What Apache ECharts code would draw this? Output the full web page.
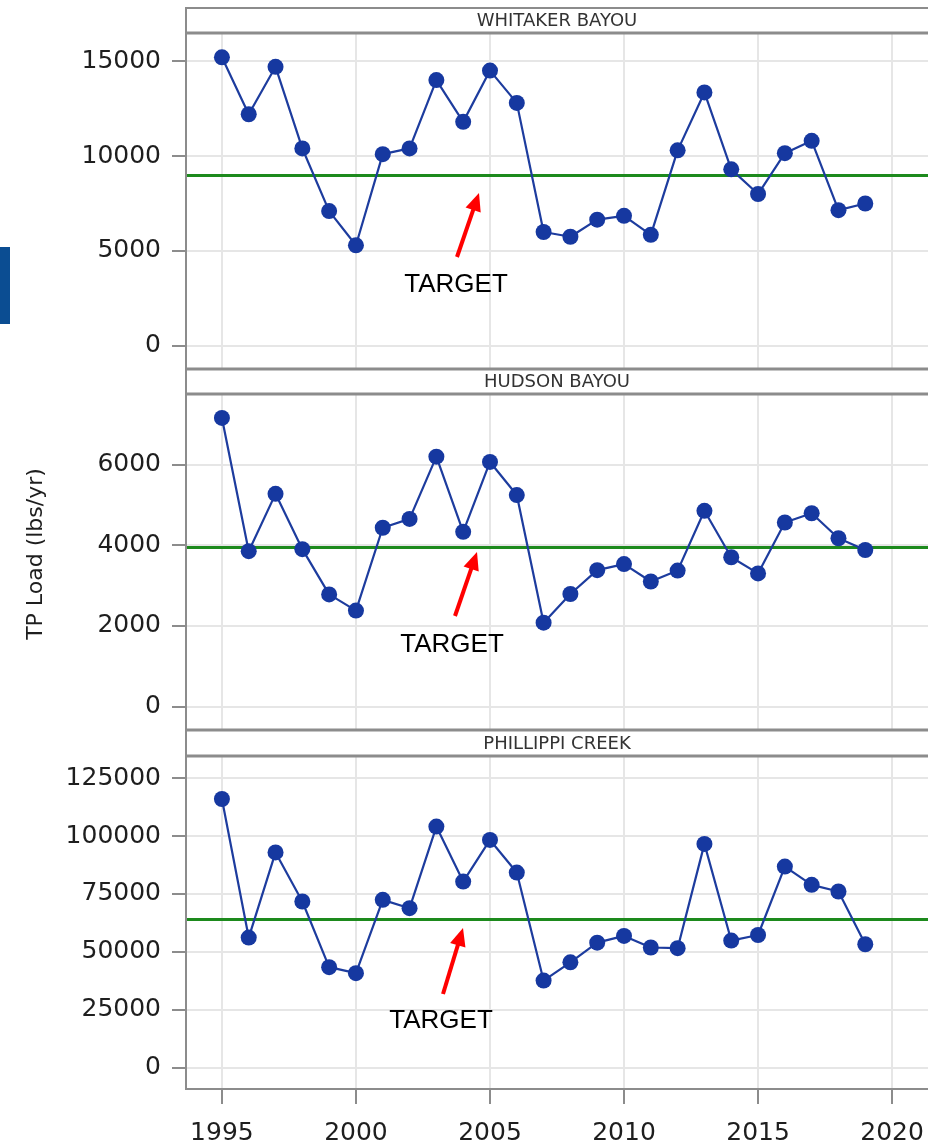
<!DOCTYPE html>
<html><head><meta charset="utf-8">
<script src="https://cdn.jsdelivr.net/npm/echarts@6/dist/echarts.min.js"></script>
<style>html,body{margin:0;padding:0;background:#fff}#c{width:928px;height:1146px}</style>
</head><body><div id="c"></div>
<script>
// ---- data ----
const years = [1995,1996,1997,1998,1999,2000,2001,2002,2003,2004,2005,2006,2007,2008,2009,2010,2011,2012,2013,2014,2015,2016,2017,2018,2019];
const whitaker = [15200,12200,14700,10400,7100,5300,10100,10400,14000,11800,14500,12800,6000,5750,6650,6850,5850,10300,13350,9300,8000,10150,10800,7150,7500];
const hudson = [7150,3850,5270,3900,2780,2380,4430,4650,6190,4330,6060,5240,2080,2790,3380,3530,3100,3370,4850,3700,3300,4560,4790,4170,3880];
const phillippi = [116000,56100,92900,71700,43300,40700,72400,68800,104100,80300,98300,84200,37500,45400,53900,56800,51800,51500,96600,54800,57200,86800,78900,76000,53200];
const targets = [9000, 3940, 64000];
const panelNames = ['WHITAKER BAYOU', 'HUDSON BAYOU', 'PHILLIPPI CREEK'];
const yTickValues = [[0,5000,10000,15000],[0,2000,4000,6000],[0,25000,50000,75000,100000,125000]];
const xTickValues = [1995,2000,2005,2010,2015,2020];
const yTitle = 'TP Load (lbs/yr)';
const annotationText = 'TARGET';

// ---- layout ----
const seriesVals = [whitaker, hudson, phillippi];
const yRanges = [[-1215,16480],[-577,7742],[-9386,134600]];
const xRange = [1993.66, 2021.34];
const grids = [
  {left:186, top:33, width:743, height:336},
  {left:186, top:394, width:743, height:336},
  {left:186, top:756, width:743, height:333}
];
const headers = [[8,33],[369,394],[730,756]];
const GRID = '#e6e6e6', AX = '#8c8c8c', TXT = '#1e1e1e';

const xAxes = grids.map((g,i)=>({
  type:'value', gridIndex:i, min:xRange[0], max:xRange[1],
  axisLine:{show:i===2, onZero:false, lineStyle:{color:AX,width:2}},
  axisTick:{show:i===2, customValues:xTickValues, length:15, lineStyle:{color:AX,width:2}},
  axisLabel:{show:i===2, customValues:xTickValues, margin:32, fontSize:25, fontFamily:'DejaVu Sans', color:TXT, formatter:v=>String(v)},
  splitLine:{show:true, lineStyle:{color:GRID,width:2}}
}));
const yAxes = grids.map((g,i)=>({
  type:'value', gridIndex:i, min:yRanges[i][0], max:yRanges[i][1],
  axisLine:{show:true, onZero:false, lineStyle:{color:AX,width:2}},
  axisTick:{show:true, customValues:yTickValues[i], length:14, lineStyle:{color:AX,width:2}},
  axisLabel:{customValues:yTickValues[i], margin:25, fontSize:25, fontFamily:'DejaVu Sans', color:TXT, formatter:v=>String(v)},
  splitLine:{show:true, lineStyle:{color:GRID,width:2}}
}));
const series = seriesVals.map((vals,i)=>({
  type:'line', xAxisIndex:i, yAxisIndex:i,
  data: years.map((y,j)=>[y, vals[j]]),
  symbol:'circle', symbolSize:16,
  itemStyle:{color:'#1638a0'},
  lineStyle:{color:'#1d3c9e', width:2.2},
  z:3,
  markLine:{silent:true, symbol:'none', label:{show:false},
    lineStyle:{color:'#1d8a1d', width:3, type:'solid'},
    data:[{yAxis:targets[i]}], z:2}
}));

// graphics
const graphic = [];
graphic.push({type:'rect', shape:{x:0,y:247,width:10,height:77}, style:{fill:'#0b4d92'}});
graphic.push({type:'text', x:36, y:554, rotation:Math.PI/2, style:{text:yTitle, font:'22px "DejaVu Sans"', fill:TXT, align:'center', verticalAlign:'middle'}});
graphic.push({type:'line', shape:{x1:186,y1:7,x2:186,y2:1090}, style:{stroke:AX, lineWidth:2}, z:10});
headers.forEach((h,i)=>{
  graphic.push({type:'rect', shape:{x:187,y:h[0],width:745,height:h[1]-h[0]}, style:{fill:'#fff'}, z:9});
  graphic.push({type:'line', shape:{x1:186,y1:h[0],x2:930,y2:h[0]}, style:{stroke:AX, lineWidth:i===0?2:3}, z:10});
  graphic.push({type:'line', shape:{x1:186,y1:h[1],x2:930,y2:h[1]}, style:{stroke:AX, lineWidth:3}, z:10});
  graphic.push({type:'text', x:557, y:(h[0]+h[1])/2+1, style:{text:panelNames[i], font:'18px "DejaVu Sans"', fill:'#333', align:'center', verticalAlign:'middle'}, z:11});
});
const arrows = [
  {tail:[457,257], tip:[479,193], text:[456,285]},
  {tail:[455,616], tip:[477,552], text:[452,645]},
  {tail:[443,994], tip:[463,928], text:[441,1021]}
];
arrows.forEach(a=>{
  const dx=a.tip[0]-a.tail[0], dy=a.tip[1]-a.tail[1];
  const L=Math.hypot(dx,dy), ux=dx/L, uy=dy/L, px=-uy, py=ux;
  const HL=18, HW=8;
  const bx=a.tip[0]-ux*HL, by=a.tip[1]-uy*HL;
  graphic.push({type:'line', shape:{x1:a.tail[0],y1:a.tail[1],x2:bx+ux*2,y2:by+uy*2}, style:{stroke:'#ff0000', lineWidth:4}, z:12});
  graphic.push({type:'polygon', shape:{points:[[a.tip[0],a.tip[1]],[bx+px*HW,by+py*HW],[bx-px*HW,by-py*HW]]}, style:{fill:'#ff0000'}, z:12});
  graphic.push({type:'text', x:a.text[0], y:a.text[1], style:{text:annotationText, font:'26px "Liberation Sans"', fill:'#000', align:'center', verticalAlign:'middle'}, z:12});
});

const chart = echarts.init(document.getElementById('c'), null, {renderer:'canvas'});
chart.setOption({
  animation:false,
  backgroundColor:'#fff',
  grid:grids, xAxis:xAxes, yAxis:yAxes, series:series, graphic:graphic
});
</script></body></html>
